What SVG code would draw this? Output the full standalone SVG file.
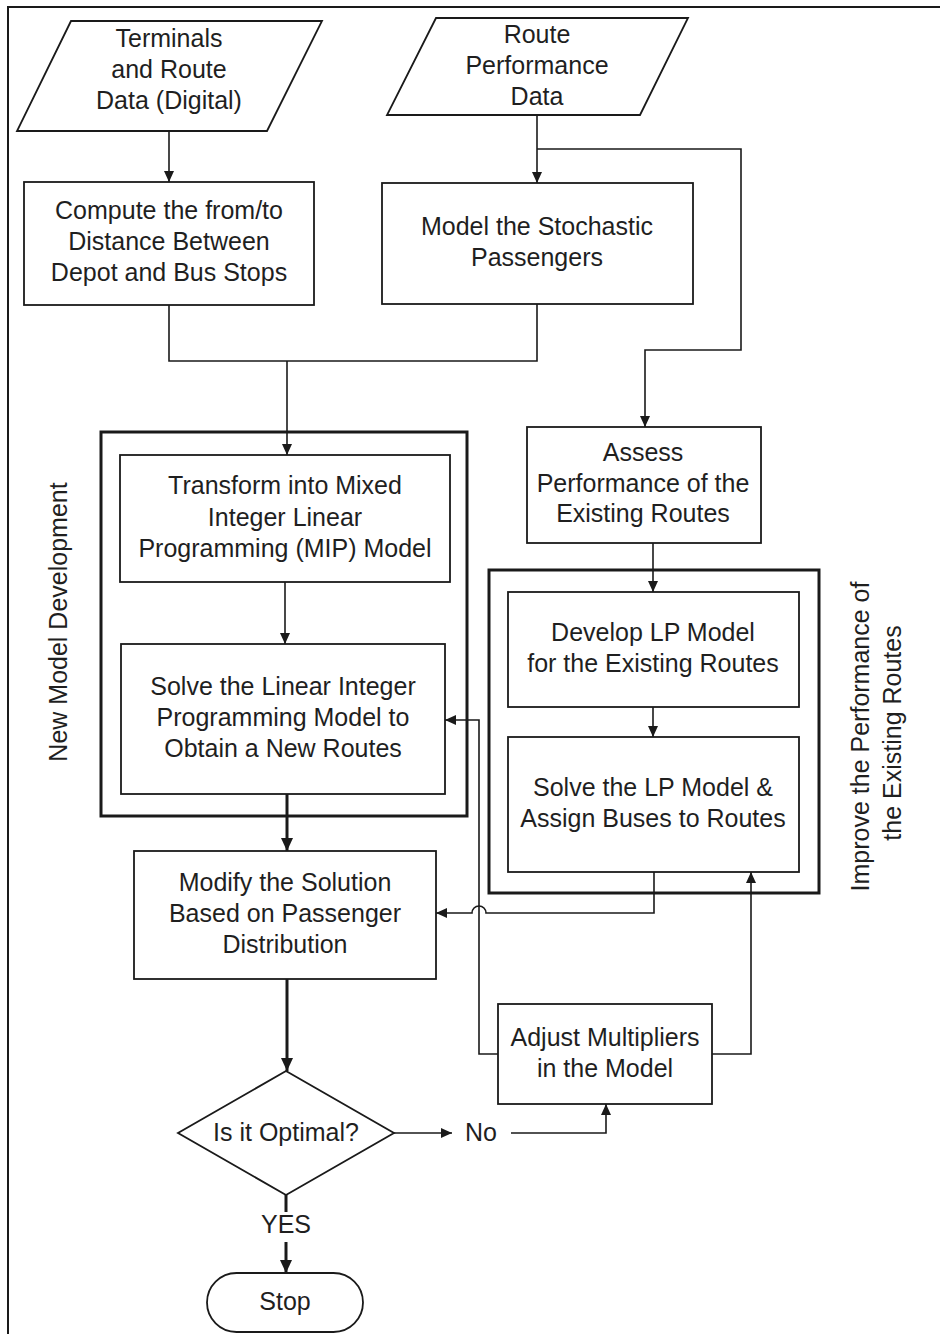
<svg xmlns="http://www.w3.org/2000/svg" width="940" height="1334" viewBox="0 0 940 1334">
  <style>
    .box { fill: #ffffff; stroke: #1a1a1a; stroke-width: 1.8; }
    .group { fill: none; stroke: #1a1a1a; stroke-width: 3; }
    .lbl { font-family: "Liberation Sans", Arial, sans-serif; font-size: 25px; fill: #1f1f1f; text-anchor: middle; }
    .wire { fill: none; stroke: #1a1a1a; stroke-width: 1.6; }
    .wire-bold { fill: none; stroke: #1a1a1a; stroke-width: 3; }
  </style>
  <defs>
    <marker id="ah" markerUnits="userSpaceOnUse" markerWidth="11" markerHeight="10" refX="11" refY="5" orient="auto">
      <path d="M0,0 L11,5 L0,10 z" fill="#1a1a1a"/>
    </marker>
    <marker id="ah-bold" markerUnits="userSpaceOnUse" markerWidth="13" markerHeight="12" refX="13" refY="6" orient="auto">
      <path d="M0,0 L13,6 L0,12 z" fill="#1a1a1a"/>
    </marker>
  </defs>

  <rect width="940" height="1334" fill="#ffffff"/>
  <!-- page frame -->
  <path d="M8,1334 V7 H940" fill="none" stroke="#1a1a1a" stroke-width="2"/>

  <!-- group frames -->
  <g id="grp-new-model">
    <rect class="group" x="101" y="432" width="366" height="384"/>
    <text class="lbl" transform="translate(58,622) rotate(-90)" x="0" y="9">New Model Development</text>
  </g>
  <g id="grp-improve">
    <rect class="group" x="489" y="570" width="330" height="323"/>
    <text class="lbl" transform="translate(876,733) rotate(-90)">
      <tspan x="0" y="-7">Improve the Performance of</tspan>
      <tspan x="0" y="25">the Existing Routes</tspan>
    </text>
  </g>

  <!-- connectors -->
  <g id="connectors">
    <path class="wire" d="M169,131 V182" marker-end="url(#ah)"/>
    <path class="wire" d="M537,115 V183" marker-end="url(#ah)"/>
    <path class="wire" d="M537,149 H741 V350 H645 V427" marker-end="url(#ah)"/>
    <path class="wire" d="M169,305 V361 H537 V304"/>
    <path class="wire" d="M287,361 V455" marker-end="url(#ah)"/>
    <path class="wire" d="M285,582 V644" marker-end="url(#ah)"/>
    <path class="wire-bold" d="M287,794 V851" marker-end="url(#ah-bold)"/>
    <path class="wire" d="M653,543 V592" marker-end="url(#ah)"/>
    <path class="wire" d="M653,707 V737" marker-end="url(#ah)"/>
    <path class="wire" d="M654,872 V913 H486 A7,7 0 0 0 472,913 H436" marker-end="url(#ah)"/>
    <path class="wire" d="M498,1054 H479 V720 H445" marker-end="url(#ah)"/>
    <path class="wire" d="M712,1054 H751 V872" marker-end="url(#ah)"/>
    <path class="wire-bold" d="M287,979 V1071" marker-end="url(#ah-bold)"/>
    <path class="wire" d="M394,1133 H452" marker-end="url(#ah)"/>
    <path class="wire" d="M511,1133 H606 V1104" marker-end="url(#ah)"/>
    <path class="wire-bold" d="M286,1195 V1212"/>
    <path class="wire-bold" d="M286,1242 V1273" marker-end="url(#ah-bold)"/>
  </g>

  <!-- nodes -->
  <g id="terminals-data">
    <polygon class="box" points="71,21 322,21 267,131 17,131"/>
    <text class="lbl"><tspan x="169" y="47">Terminals</tspan><tspan x="169" y="78">and Route</tspan><tspan x="169" y="109">Data (Digital)</tspan></text>
  </g>
  <g id="route-performance-data">
    <polygon class="box" points="436,18 688,18 640,115 387,115"/>
    <text class="lbl"><tspan x="537" y="43">Route</tspan><tspan x="537" y="74">Performance</tspan><tspan x="537" y="105">Data</tspan></text>
  </g>
  <g id="compute-distance">
    <rect class="box" x="24" y="182" width="290" height="123"/>
    <text class="lbl"><tspan x="169" y="219">Compute the from/to</tspan><tspan x="169" y="250">Distance Between</tspan><tspan x="169" y="281">Depot and Bus Stops</tspan></text>
  </g>
  <g id="model-passengers">
    <rect class="box" x="382" y="183" width="311" height="121"/>
    <text class="lbl"><tspan x="537" y="235">Model the Stochastic</tspan><tspan x="537" y="266">Passengers</tspan></text>
  </g>
  <g id="transform-mip">
    <rect class="box" x="120" y="455" width="330" height="127"/>
    <text class="lbl"><tspan x="285" y="494">Transform into Mixed</tspan><tspan x="285" y="526">Integer Linear</tspan><tspan x="285" y="557">Programming (MIP) Model</tspan></text>
  </g>
  <g id="solve-mip">
    <rect class="box" x="121" y="644" width="324" height="150"/>
    <text class="lbl"><tspan x="283" y="695">Solve the Linear Integer</tspan><tspan x="283" y="726">Programming Model to</tspan><tspan x="283" y="757">Obtain a New Routes</tspan></text>
  </g>
  <g id="assess-performance">
    <rect class="box" x="527" y="427" width="234" height="116"/>
    <text class="lbl"><tspan x="643" y="461">Assess</tspan><tspan x="643" y="492">Performance of the</tspan><tspan x="643" y="522">Existing Routes</tspan></text>
  </g>
  <g id="develop-lp">
    <rect class="box" x="508" y="592" width="291" height="115"/>
    <text class="lbl"><tspan x="653" y="641">Develop LP Model</tspan><tspan x="653" y="672">for the Existing Routes</tspan></text>
  </g>
  <g id="solve-lp">
    <rect class="box" x="508" y="737" width="291" height="135"/>
    <text class="lbl"><tspan x="653" y="796">Solve the LP Model &amp;</tspan><tspan x="653" y="827">Assign Buses to Routes</tspan></text>
  </g>
  <g id="modify-solution">
    <rect class="box" x="134" y="851" width="302" height="128"/>
    <text class="lbl"><tspan x="285" y="891">Modify the Solution</tspan><tspan x="285" y="922">Based on Passenger</tspan><tspan x="285" y="953">Distribution</tspan></text>
  </g>
  <g id="adjust-multipliers">
    <rect class="box" x="498" y="1004" width="214" height="100"/>
    <text class="lbl"><tspan x="605" y="1046">Adjust Multipliers</tspan><tspan x="605" y="1077">in the Model</tspan></text>
  </g>
  <g id="is-optimal">
    <polygon class="box" points="286,1071 394,1133 286,1195 178,1133"/>
    <text class="lbl" x="286" y="1141">Is it Optimal?</text>
  </g>
  <g id="label-no">
    <text class="lbl" x="481" y="1141">No</text>
  </g>
  <g id="label-yes">
    <text class="lbl" x="286" y="1233">YES</text>
  </g>
  <g id="stop">
    <rect class="box" x="207" y="1273" width="156" height="59" rx="29.5" ry="29.5"/>
    <text class="lbl" x="285" y="1310">Stop</text>
  </g>
</svg>
